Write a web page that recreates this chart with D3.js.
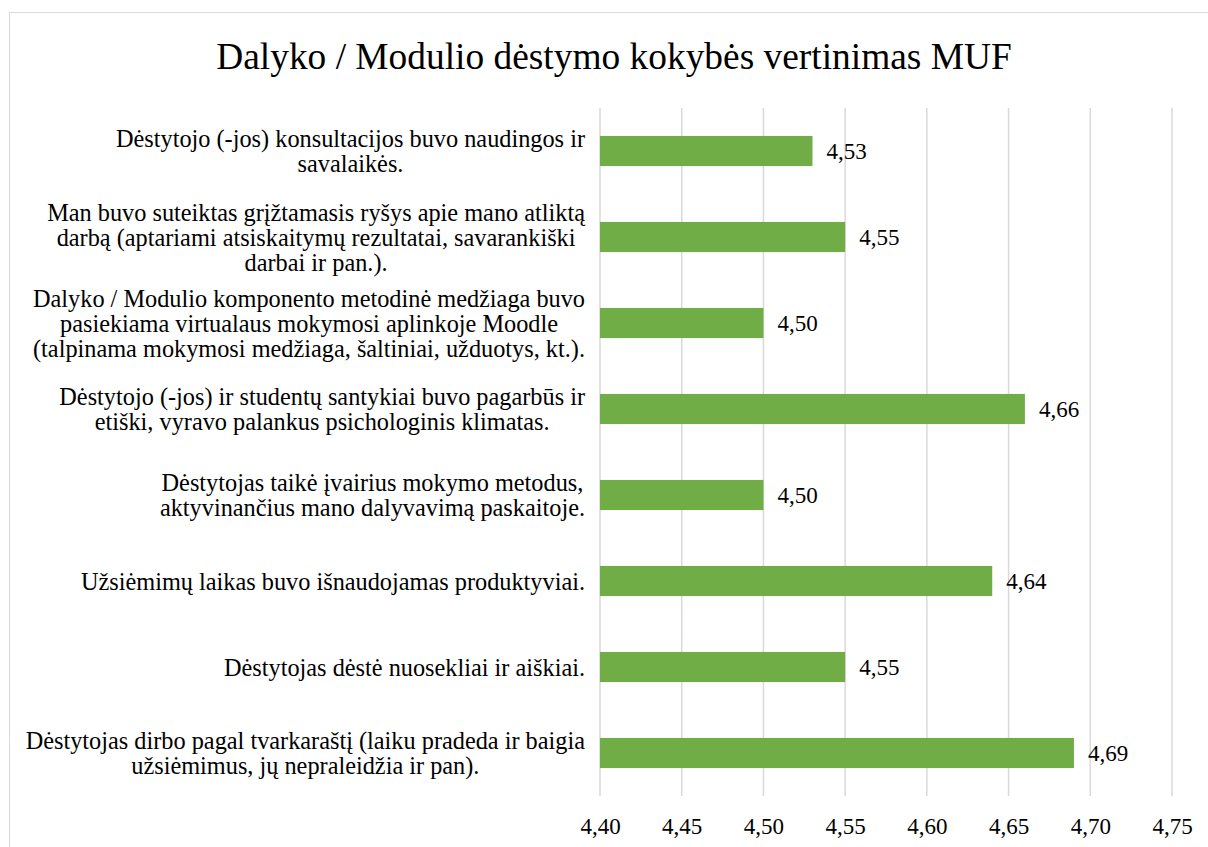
<!DOCTYPE html>
<html>
<head>
<meta charset="utf-8">
<script src="https://cdn.jsdelivr.net/npm/d3@7"></script>
<style>
  body { margin: 0; background: #fff; }
  text { font-family: "Liberation Serif", "Times New Roman", serif; fill: #000; }
</style>
</head>
<body>
<div id="visDiv"></div>
<script>
(function () {

	// DATA
	var title = "Dalyko / Modulio dėstymo kokybės vertinimas MUF";
	var categories = [
		["Dėstytojo (-jos) konsultacijos buvo naudingos ir", "savalaikės."],
		["Man buvo suteiktas grįžtamasis ryšys apie mano atliktą", "darbą (aptariami atsiskaitymų rezultatai, savarankiški", "darbai ir pan.)."],
		["Dalyko / Modulio komponento metodinė medžiaga buvo", "pasiekiama virtualaus mokymosi aplinkoje Moodle", "(talpinama mokymosi medžiaga, šaltiniai, užduotys, kt.)."],
		["Dėstytojo (-jos) ir studentų santykiai buvo pagarbūs ir", "etiški, vyravo palankus psichologinis klimatas."],
		["Dėstytojas taikė įvairius mokymo metodus,", "aktyvinančius mano dalyvavimą paskaitoje."],
		["Užsiėmimų laikas buvo išnaudojamas produktyviai."],
		["Dėstytojas dėstė nuosekliai ir aiškiai."],
		["Dėstytojas dirbo pagal tvarkaraštį (laiku pradeda ir baigia", "užsiėmimus, jų nepraleidžia ir pan)."]
	];
	var values = [4.53, 4.55, 4.50, 4.66, 4.50, 4.64, 4.55, 4.69];
	var xTicks = [4.40, 4.45, 4.50, 4.55, 4.60, 4.65, 4.70, 4.75];

	var W = 1208, H = 847,
		margin = {top: 108, left: 600, right: 36, bottom: 51},
		w = 1172 - margin.left,
		h = 796 - margin.top,
		serif = '"Liberation Serif", "Times New Roman", serif';

	var fmt = function (v) { return d3.format(".2f")(v).replace(".", ","); };

	var svg = d3.select('#visDiv')
		.append('svg')
			.attr('width', W)
			.attr('height', H);

	// chart frame
	svg.append('rect')
		.attr('x', 9.5).attr('y', 12.5)
		.attr('width', 1240).attr('height', 900)
		.attr('fill', '#fff')
		.attr('stroke', '#d9d9d9')
		.attr('stroke-width', 1);

	svg.append('text')
		.attr('x', 614)
		.attr('y', 69)
		.attr('text-anchor', 'middle')
		.style('font-family', serif)
		.style('font-size', '37.4px')
		.text(title);

	var all = svg.append('g')
		.attr('transform', 'translate(' + margin.left + ',' + margin.top + ')');

	var x = d3.scaleLinear().domain([4.40, 4.75]).range([0, w]);
	var y = d3.scaleBand().domain(d3.range(values.length)).range([0, h]).paddingInner(0.65).paddingOuter(0.325);

	// gridlines
	all.append('g')
		.selectAll('line')
		.data(xTicks)
		.enter().append('line')
			.attr('x1', function (d) { return x(d); })
			.attr('x2', function (d) { return x(d); })
			.attr('y1', 0).attr('y2', h)
			.attr('stroke', '#d9d9d9')
			.attr('stroke-width', 1.5);

	// x axis labels
	var xAxis = all.append('g')
		.attr('transform', 'translate(0,' + h + ')')
		.call(d3.axisBottom(x).tickValues(xTicks).tickFormat(fmt).tickSize(0).tickPadding(0));
	xAxis.select('.domain').remove();
	xAxis.selectAll('text')
		.attr('y', 30)
		.attr('dy', '0.35em')
		.style('font-size', '23px')
		.style('font-family', serif)
		.attr('fill', '#000');

	// bars
	all.selectAll('.bar')
		.data(values)
		.enter().append('rect')
			.attr('class', 'bar')
			.attr('x', x(4.40))
			.attr('y', function (d, i) { return y(i); })
			.attr('width', function (d) { return x(d) - x(4.40); })
			.attr('height', y.bandwidth())
			.attr('fill', '#70ad47');

	// value labels
	all.selectAll('.val')
		.data(values)
		.enter().append('text')
			.attr('class', 'val')
			.attr('x', function (d) { return x(d) + 14; })
			.attr('y', function (d, i) { return y(i) + y.bandwidth() / 2; })
			.attr('dy', '0.35em')
			.style('font-family', serif)
			.style('font-size', '23px')
			.text(fmt);

	// category labels: block right aligned to axis, lines centred inside
	var lineH = 25, rightEdge = 585;
	categories.forEach(function (lines, i) {
		var cy = margin.top + y(i) + y.bandwidth() / 2;
		var g = svg.append('g');
		var t = g.selectAll('text')
			.data(lines)
			.enter().append('text')
				.attr('y', function (d, j) { return cy + (j - (lines.length - 1) / 2) * lineH; })
				.attr('dy', '0.35em')
				.attr('text-anchor', 'middle')
				.style('font-family', serif)
				.style('font-size', '24.3px')
				.text(function (d) { return d; });
		var maxW = d3.max(t.nodes(), function (n) { return n.getComputedTextLength(); });
		t.attr('x', rightEdge - maxW / 2);
	});

})();
</script>
</body>
</html>
